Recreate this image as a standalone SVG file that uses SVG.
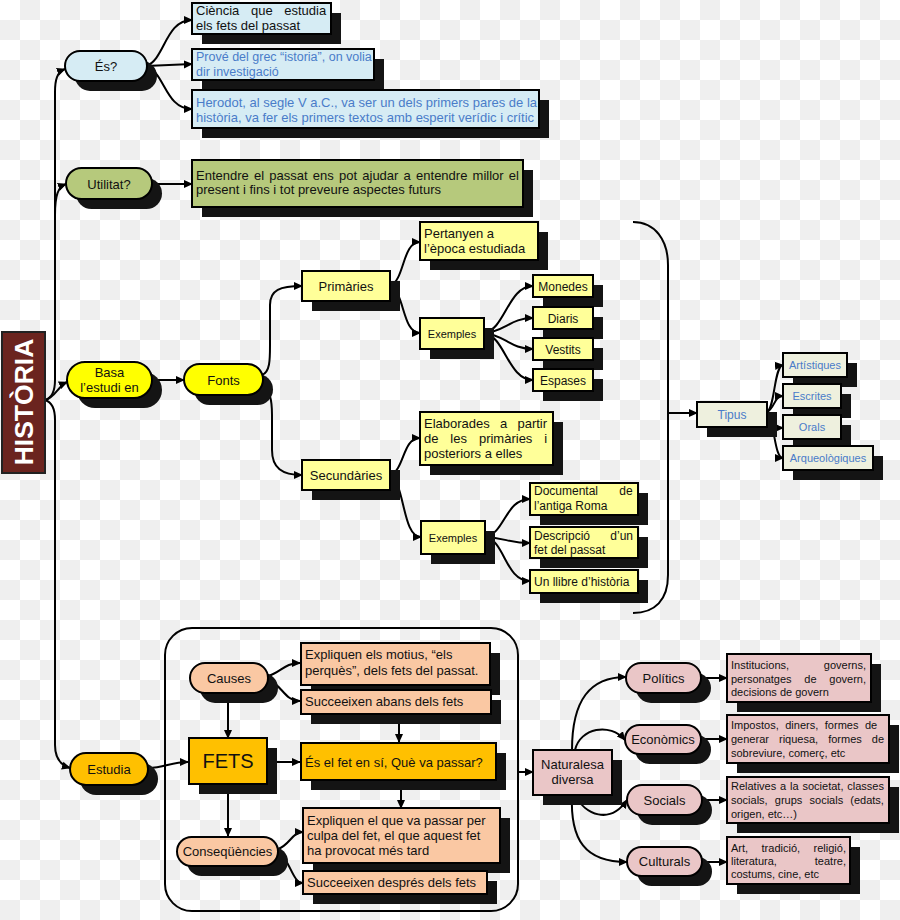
<svg xmlns="http://www.w3.org/2000/svg" width="900" height="920" viewBox="0 0 900 920">
<defs>
<pattern id="chk" width="40" height="40" patternUnits="userSpaceOnUse">
<rect width="40" height="40" fill="#ffffff"/>
<rect x="20" y="0" width="20" height="20" fill="#efefef"/>
<rect x="0" y="20" width="20" height="20" fill="#efefef"/>
</pattern>
<marker id="ah" viewBox="0 0 10 10" refX="9" refY="5" markerWidth="9" markerHeight="9" markerUnits="userSpaceOnUse" orient="auto"><path d="M0,0.5 L10,5 L0,9.5 z" fill="#000"/></marker>
<style>
text{font-family:"Liberation Sans",Arial,Helvetica,sans-serif;fill:#111;font-size:13px}
.s{fill:#141414}
.b{stroke:#000;stroke-width:2}
.lb{fill:#d6ecf4}
.gr{fill:#b6c97c}
.ye{fill:#ffff00}
.ly{fill:#ffff99}
.tp{fill:#eef0de}
.or{fill:#ffc000}
.pe{fill:#fac8a3}
.pk{fill:#eac6c7}
.bt{fill:#4a7cc9}
.m{text-anchor:middle}
.f11{font-size:11px}
.f12{font-size:12px}
.c{fill:none;stroke:#000;stroke-width:2;marker-end:url(#ah)}
.c0{fill:none;stroke:#000;stroke-width:2}
</style>
</defs>
<rect width="900" height="920" fill="url(#chk)"/>

<g id="connectors">
<path class="c" d="M45,400 C52,398 55,392 55,380 L55,92 C55,80 57,72 65,69"/>
<path class="c" d="M55,215 C55,195 58,187 66,184"/>
<path class="c" d="M45,400 C55,398 58,386 67,382"/>
<path class="c" d="M45,400 C52,402 55,408 55,420 L55,745 C55,758 60,765 70,768"/>
<path class="c" d="M146,66 C165,60 165,20 192,20"/>
<path class="c" d="M146,66 L192,64"/>
<path class="c" d="M146,66 C165,72 165,109 192,109"/>
<path class="c" d="M152,184 L192,184"/>
<path class="c" d="M152,380 L184,380"/>
<path class="c" d="M262,375 C270,372 270,360 270,345 L270,305 C270,290 280,286 302,286"/>
<path class="c" d="M262,385 C270,390 272,400 272,415 L272,450 C272,468 282,475 302,475"/>
<path class="c" d="M390,286 C405,280 402,242 420,242"/>
<path class="c" d="M390,286 C405,292 402,333 420,333"/>
<path class="c" d="M484,333 C505,330 508,286 533,286"/>
<path class="c" d="M484,333 C505,332 510,318 533,318"/>
<path class="c" d="M484,333 C505,335 510,349 533,349"/>
<path class="c" d="M484,333 C505,336 508,380 533,380"/>
<path class="c" d="M390,475 C405,470 402,438 420,438"/>
<path class="c" d="M390,475 C405,482 402,537 421,537"/>
<path class="c" d="M485,537 C505,534 505,499 530,499"/>
<path class="c" d="M485,537 C505,538 510,543 530,543"/>
<path class="c" d="M485,537 C505,540 505,581 530,581"/>
<path class="c0" d="M633,222 C655,222 668,240 668,265 L668,575 C668,600 655,613 633,613"/>
<path class="c" d="M668,413 L697,413"/>
<path class="c" d="M767,412 C775,408 774,366 783,365"/>
<path class="c" d="M767,412 C775,408 774,396 783,396"/>
<path class="c" d="M767,416 C775,420 774,428 783,428"/>
<path class="c" d="M767,416 C775,420 774,458 783,458"/>
<path class="c" d="M148,768 C165,768 170,762 188,762"/>
<path class="c" d="M268,676 C282,672 284,663 300,663"/>
<path class="c" d="M268,680 C282,684 284,701 300,701"/>
<path class="c" d="M228,693 L228,738"/>
<path class="c" d="M399,714 L399,742"/>
<path class="c" d="M267,762 L300,762"/>
<path class="c" d="M228,784 L228,836"/>
<path class="c" d="M401,780 L401,808"/>
<path class="c" d="M278,849 C290,845 292,832 303,832"/>
<path class="c" d="M278,853 C290,858 292,883 303,883"/>
<path class="c" d="M518,772 L533,772"/>
<path class="c" d="M572,750 C572,700 590,677 626,677"/>
<path class="c" d="M575,750 C580,728 610,722 625,740"/>
<path class="c" d="M575,795 C585,815 610,825 627,800"/>
<path class="c" d="M572,795 C570,840 585,862 627,862"/>
<path class="c" d="M701,678 L727,678"/>
<path class="c" d="M701,739 L727,739"/>
<path class="c" d="M702,800 L727,800"/>
<path class="c" d="M702,862 L727,862"/>
</g>

<g id="estudia-frame"><rect x="165" y="628" width="353" height="283" rx="27" fill="none" stroke="#000" stroke-width="2"/></g>

<g id="historia">
<rect x="2" y="332" width="43" height="141" fill="#6b241f" stroke="#222" stroke-width="2"/>
<text transform="translate(33,402) rotate(-90)" class="m" style="font-size:26.5px;font-weight:bold;fill:#ffffff">HISTÒRIA</text>
</g>

<g id="es">
<rect class="s" x="75" y="61" width="82" height="30" rx="15"/>
<rect class="lb b" x="65" y="51" width="82" height="30" rx="15"/>
<text class="m" x="106" y="71">És?</text>
</g>
<g id="es-1">
<rect class="s" x="202" y="13" width="139" height="31"/>
<rect class="lb b" x="192" y="3" width="139" height="31"/>
<text x="196" y="14.5" word-spacing="8">Ciència que estudia</text>
<text x="196" y="29.5">els fets del passat</text>
</g>
<g id="es-2">
<rect class="s" x="202" y="59" width="182" height="31"/>
<rect class="lb b" x="192" y="49" width="182" height="31"/>
<text class="bt" x="196" y="61" style="font-size:12.5px">Prové del grec “istoria”, on volia</text>
<text class="bt" x="196" y="76" style="font-size:12.5px">dir investigació</text>
</g>
<g id="es-3">
<rect class="s" x="202" y="100" width="347" height="38"/>
<rect class="lb b" x="192" y="90" width="347" height="38"/>
<text class="bt" x="196" y="106.5">Herodot, al segle V a.C., va ser un dels primers pares de la</text>
<text class="bt" x="196" y="121.5">història, va fer els primers textos amb esperit verídic i crític</text>
</g>

<g id="utilitat">
<rect class="s" x="76" y="178" width="86" height="31" rx="15.5"/>
<rect class="gr b" x="66" y="168" width="86" height="31" rx="15.5"/>
<text class="m" x="109" y="188.5">Utilitat?</text>
</g>
<g id="utilitat-1">
<rect class="s" x="202" y="170" width="331" height="47"/>
<rect class="gr b" x="192" y="160" width="331" height="47"/>
<text x="196" y="179.5" word-spacing="1.6">Entendre el passat ens pot ajudar a entendre millor el</text>
<text x="196" y="194">present i fins i tot preveure aspectes futurs</text>
</g>

<g id="basa">
<rect class="s" x="77" y="372" width="85" height="36" rx="18"/>
<rect class="ye b" x="67" y="362" width="85" height="36" rx="18"/>
<text class="m" x="109.5" y="376.5">Basa</text>
<text class="m" x="109.5" y="391.5">l’estudi en</text>
</g>
<g id="fonts">
<rect class="s" x="194" y="374" width="79" height="31" rx="15.5"/>
<rect class="ye b" x="184" y="364" width="79" height="31" rx="15.5"/>
<text class="m" x="223.5" y="384.5">Fonts</text>
</g>

<g id="primaries">
<rect class="s" x="312" y="281" width="88" height="30"/>
<rect class="ly b" x="302" y="271" width="88" height="30"/>
<text class="m" x="346" y="290.5">Primàries</text>
</g>
<g id="pertanyen">
<rect class="s" x="430" y="232" width="118" height="38"/>
<rect class="ly b" x="420" y="222" width="118" height="38"/>
<text x="424" y="237.5">Pertanyen a</text>
<text x="424" y="252.5">l’època estudiada</text>
</g>
<g id="exemples-1">
<rect class="s" x="430" y="328" width="64" height="31"/>
<rect class="ly b" x="420" y="318" width="64" height="31"/>
<text class="m f11" x="452" y="337.5">Exemples</text>
</g>
<g id="monedes">
<rect class="s" x="543" y="285" width="60" height="22"/>
<rect class="ly b" x="533" y="275" width="60" height="22"/>
<text class="m f12" x="563" y="290.5">Monedes</text>
</g>
<g id="diaris">
<rect class="s" x="543" y="317" width="60" height="22"/>
<rect class="ly b" x="533" y="307" width="60" height="22"/>
<text class="m f12" x="563" y="322.5">Diaris</text>
</g>
<g id="vestits">
<rect class="s" x="543" y="348" width="60" height="22"/>
<rect class="ly b" x="533" y="338" width="60" height="22"/>
<text class="m f12" x="563" y="353.5">Vestits</text>
</g>
<g id="espases">
<rect class="s" x="543" y="379" width="60" height="22"/>
<rect class="ly b" x="533" y="369" width="60" height="22"/>
<text class="m f12" x="563" y="384.5">Espases</text>
</g>

<g id="secundaries">
<rect class="s" x="312" y="470" width="88" height="30"/>
<rect class="ly b" x="302" y="460" width="88" height="30"/>
<text class="m" x="346" y="479.5">Secundàries</text>
</g>
<g id="elaborades">
<rect class="s" x="430" y="422" width="133" height="53"/>
<rect class="ly b" x="420" y="412" width="133" height="53"/>
<text x="424" y="427.5" word-spacing="6.6">Elaborades a partir</text>
<text x="424" y="442.5" word-spacing="8.3">de les primàries i</text>
<text x="424" y="457.5">posteriors a elles</text>
</g>
<g id="exemples-2">
<rect class="s" x="431" y="531" width="64" height="33"/>
<rect class="ly b" x="421" y="521" width="64" height="33"/>
<text class="m f11" x="453" y="541.5">Exemples</text>
</g>
<g id="documental">
<rect class="s" x="540" y="493" width="108" height="32"/>
<rect class="ly b" x="530" y="483" width="108" height="32"/>
<text class="f12" x="534" y="495" word-spacing="18">Documental de</text>
<text class="f12" x="534" y="510">l’antiga Roma</text>
</g>
<g id="descripcio">
<rect class="s" x="540" y="537" width="108" height="31"/>
<rect class="ly b" x="530" y="527" width="108" height="31"/>
<text class="f12" x="534" y="540" word-spacing="17">Descripció d’un</text>
<text class="f12" x="534" y="553.5">fet del passat</text>
</g>
<g id="llibre">
<rect class="s" x="540" y="580" width="108" height="23"/>
<rect class="ly b" x="530" y="570" width="108" height="23"/>
<text class="f12" x="534" y="585.5">Un llibre d’història</text>
</g>

<g id="tipus">
<rect class="s" x="707" y="412" width="70" height="25"/>
<rect class="tp b" x="697" y="402" width="70" height="25"/>
<text class="m f12 bt" x="732" y="418.5">Tipus</text>
</g>
<g id="artistiques">
<rect class="s" x="793" y="363" width="64" height="24"/>
<rect class="tp b" x="783" y="353" width="64" height="24"/>
<text class="m f11 bt" x="815" y="368.5">Artístiques</text>
</g>
<g id="escrites">
<rect class="s" x="793" y="394" width="58" height="24"/>
<rect class="tp b" x="783" y="384" width="58" height="24"/>
<text class="m f11 bt" x="812" y="399.5">Escrites</text>
</g>
<g id="orals">
<rect class="s" x="793" y="425" width="58" height="24"/>
<rect class="tp b" x="783" y="415" width="58" height="24"/>
<text class="m f11 bt" x="812" y="430.5">Orals</text>
</g>
<g id="arqueologiques">
<rect class="s" x="793" y="456" width="90" height="24"/>
<rect class="tp b" x="783" y="446" width="90" height="24"/>
<text class="m f11 bt" x="828" y="461.5">Arqueològiques</text>
</g>

<g id="estudia">
<rect class="s" x="80" y="763" width="78" height="32" rx="16"/>
<rect class="or b" x="70" y="753" width="78" height="32" rx="16"/>
<text class="m" x="109" y="773.5">Estudia</text>
</g>
<g id="causes">
<rect class="s" x="200" y="673" width="78" height="30" rx="15"/>
<rect class="pe b" x="190" y="663" width="78" height="30" rx="15"/>
<text class="m" x="229" y="682.5">Causes</text>
</g>
<g id="causes-1">
<rect class="s" x="311" y="653" width="189" height="42"/>
<rect class="pe b" x="301" y="643" width="189" height="42"/>
<text x="305" y="659">Expliquen els motius, “els</text>
<text x="305" y="675">perquès”, dels fets del passat.</text>
</g>
<g id="causes-2">
<rect class="s" x="311" y="700" width="190" height="24"/>
<rect class="pe b" x="301" y="690" width="190" height="24"/>
<text x="305" y="706">Succeeixen abans dels fets</text>
</g>
<g id="fets">
<rect class="s" x="199" y="748" width="78" height="46"/>
<rect class="or b" x="189" y="738" width="78" height="46"/>
<text class="m" x="228" y="768" style="font-size:20px">FETS</text>
</g>
<g id="fets-1">
<rect class="s" x="311" y="753" width="195" height="37"/>
<rect class="or b" x="301" y="743" width="195" height="37"/>
<text x="305" y="766.5">És el fet en sí, Què va passar?</text>
</g>
<g id="consequencies">
<rect class="s" x="187" y="847" width="101" height="29" rx="14.5"/>
<rect class="pe b" x="177" y="837" width="101" height="29" rx="14.5"/>
<text class="m" x="227.5" y="856">Conseqüències</text>
</g>
<g id="consequencies-1">
<rect class="s" x="313" y="818" width="197" height="55"/>
<rect class="pe b" x="303" y="808" width="197" height="55"/>
<text x="307" y="824.5">Expliquen el que va passar per</text>
<text x="307" y="839.5">culpa del fet, el que aquest fet</text>
<text x="307" y="854.5">ha provocat més tard</text>
</g>
<g id="consequencies-2">
<rect class="s" x="313" y="881" width="184" height="23"/>
<rect class="pe b" x="303" y="871" width="184" height="23"/>
<text x="307" y="886.5">Succeeixen després dels fets</text>
</g>

<g id="naturalesa">
<rect class="s" x="543" y="760" width="79" height="45"/>
<rect class="pk b" x="533" y="750" width="79" height="45"/>
<text class="m" x="572.5" y="768.5">Naturalesa</text>
<text class="m" x="572.5" y="783.5">diversa</text>
</g>
<g id="politics">
<rect class="s" x="636" y="673" width="75" height="30" rx="15"/>
<rect class="pk b" x="626" y="663" width="75" height="30" rx="15"/>
<text class="m" x="663.5" y="682.5">Polítics</text>
</g>
<g id="economics">
<rect class="s" x="635" y="735" width="76" height="29" rx="14.5"/>
<rect class="pk b" x="625" y="725" width="76" height="29" rx="14.5"/>
<text class="m" x="663" y="744">Econòmics</text>
</g>
<g id="socials">
<rect class="s" x="637" y="795" width="75" height="30" rx="15"/>
<rect class="pk b" x="627" y="785" width="75" height="30" rx="15"/>
<text class="m" x="664.5" y="804.5">Socials</text>
</g>
<g id="culturals">
<rect class="s" x="637" y="857" width="75" height="29" rx="14.5"/>
<rect class="pk b" x="627" y="847" width="75" height="29" rx="14.5"/>
<text class="m" x="664.5" y="866">Culturals</text>
</g>
<g id="politics-1">
<rect class="s" x="737" y="664" width="144" height="48"/>
<rect class="pk b" x="727" y="654" width="144" height="48"/>
<text class="f11" x="731" y="668.5" word-spacing="31.7">Institucions, governs,</text>
<text class="f11" x="731" y="682.5" word-spacing="9.7">personatges de govern,</text>
<text class="f11" x="731" y="696">decisions de govern</text>
</g>
<g id="economics-1">
<rect class="s" x="737" y="725" width="162" height="48"/>
<rect class="pk b" x="727" y="715" width="162" height="48"/>
<text class="f11" x="731" y="729" word-spacing="3.5">Impostos, diners, formes de</text>
<text class="f11" x="731" y="743" word-spacing="7">generar riquesa, formes de</text>
<text class="f11" x="731" y="757">sobreviure, comerç, etc</text>
</g>
<g id="socials-1">
<rect class="s" x="737" y="787" width="162" height="46"/>
<rect class="pk b" x="727" y="777" width="162" height="46"/>
<text class="f11" x="731" y="790" word-spacing="0.8">Relatives a la societat, classes</text>
<text class="f11" x="731" y="804" word-spacing="4.1">socials, grups socials (edats,</text>
<text class="f11" x="731" y="817.5">origen, etc…)</text>
</g>
<g id="culturals-1">
<rect class="s" x="737" y="847" width="123" height="47"/>
<rect class="pk b" x="727" y="837" width="123" height="47"/>
<text class="f11" x="731" y="852" word-spacing="10.4">Art, tradició, religió,</text>
<text class="f11" x="731" y="865" word-spacing="34.9">literatura, teatre,</text>
<text class="f11" x="731" y="878">costums, cine, etc</text>
</g>
</svg>
